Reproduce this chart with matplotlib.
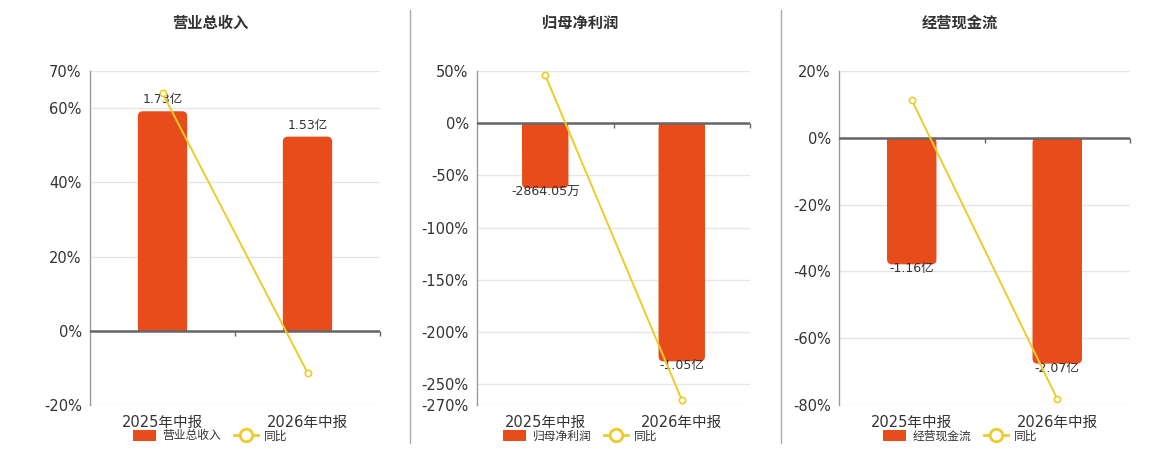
"""
Three small bar + line panels: 营业总收入 / 归母净利润 / 经营现金流 with YoY line.
"""

import matplotlib
matplotlib.use('Agg')
import matplotlib.pyplot as plt
from matplotlib.patches import FancyBboxPatch, Rectangle, Patch
from matplotlib.lines import Line2D

plt.rcParams['font.family'] = ['DejaVu Sans', 'Noto Sans CJK SC']

# ---- data ----
periods = ['2025年中报', '2026年中报']

revenue = [1.73, 1.53]              # 亿
revenue_labels = ['1.73亿', '1.53亿']
revenue_yoy = [64.0, -11.3]          # %
revenue_ticks = [-20, 0, 20, 40, 60, 70]

profit = [-0.286405, -1.05]         # 亿
profit_labels = ['-2864.05万', '-1.05亿']
profit_yoy = [46.0, -265.0]
profit_ticks = [-270, -250, -200, -150, -100, -50, 0, 50]

cash = [-1.16, -2.07]               # 亿
cash_labels = ['-1.16亿', '-2.07亿']
cash_yoy = [11.3, -78.2]
cash_ticks = [-80, -60, -40, -20, 0, 20]

titles = ['营业总收入', '归母净利润', '经营现金流']

# ---- style ----
W, H = 1160, 450
BAR_COLOR = '#E84C1B'
LINE_COLOR = '#EDCB2A'
TEXT_COLOR = '#333333'
AX_TOP, AX_BOTTOM = 71, 405
panels_px = [(90, 380), (477, 750), (839, 1130)]   # axes left/right in pixels
centers_px = [210, 580, 960]                          # title / legend centres
separators_px = [410, 781]


def draw_panel(fig, lr, cx, title, values, labels, yoy, ticks):
    left, right = lr
    ax_w, ax_h = right - left, AX_BOTTOM - AX_TOP
    ax = fig.add_axes([left / W, (H - AX_BOTTOM) / H, ax_w / W, ax_h / H])
    lo, hi = min(ticks), max(ticks)
    ax.set_xlim(-0.5, 1.5)
    ax.set_ylim(lo, hi)
    ax.set_yticks(ticks)
    ax.set_yticklabels([f'{t}%' for t in ticks])
    ax.set_xticks(range(len(periods)))
    ax.set_xticklabels(periods)
    ax.tick_params(axis='both', length=0, labelsize=10.5, labelcolor=TEXT_COLOR)
    ax.tick_params(axis='y', pad=6)
    ax.tick_params(axis='x', pad=7)
    ax.grid(axis='y', color='#e6e6e6', lw=1)
    ax.set_axisbelow(True)
    for s in ['top', 'right', 'bottom']:
        ax.spines[s].set_visible(False)
    ax.spines['left'].set_color('#999999')
    ax.spines['left'].set_linewidth(1)

    # bar axis: zero aligned with the percent axis
    ax_bar = ax.twinx()
    big = max(values, key=abs)
    side = hi if big > 0 else -lo
    k = abs(big) / (0.845 * side)
    ax_bar.set_ylim(lo * k, hi * k)
    ax_bar.yaxis.set_visible(False)
    for s in ax_bar.spines.values():
        s.set_visible(False)

    rects = ax_bar.bar(range(len(values)), values, width=0.34, color=BAR_COLOR)
    rx = 5 * 2.0 / ax_w
    ry = 5 * (hi - lo) * k / ax_h
    for r, v in zip(rects, values):
        x, w = r.get_x(), r.get_width()
        r.set_visible(False)
        ax_bar.add_patch(FancyBboxPatch((x, min(0, v)), w, abs(v),
                                        boxstyle=f'round,pad=0,rounding_size={rx}',
                                        mutation_aspect=ry / rx,
                                        fc=BAR_COLOR, ec='none'))
        # square off the end that sits on the zero line
        ax_bar.add_patch(Rectangle((x, min(0, v / 2)), w, abs(v) / 2,
                                   fc=BAR_COLOR, ec='none'))

    for i, (v, s) in enumerate(zip(values, labels)):
        if v > 0:
            ax_bar.annotate(s, (i, v), xytext=(0, 3.5), textcoords='offset points',
                            ha='center', va='bottom', fontsize=9, color=TEXT_COLOR)
        else:
            ax_bar.annotate(s, (i, v), xytext=(0, 1.5), textcoords='offset points',
                            ha='center', va='top', fontsize=9, color=TEXT_COLOR)

    # line axis on top
    ax_line = ax.twinx()
    ax_line.set_ylim(lo, hi)
    ax_line.yaxis.set_visible(False)
    for s in ax_line.spines.values():
        s.set_visible(False)
    ax_line.axhline(0, color='#666666', lw=1.8)
    tick_len = 5 * (hi - lo) / ax_h
    ax_line.vlines([0.5, 1.5], -tick_len, 0, color='#666666', lw=1, clip_on=False)
    ax_line.plot(range(len(yoy)), yoy, color=LINE_COLOR, lw=1.4, marker='o', ms=4.5,
                 mfc='white', mec=LINE_COLOR, mew=1.2, clip_on=False)

    fig.text(cx / W, 1 - 23 / H, title, ha='center', va='center',
             fontsize=11, fontweight='bold', color=TEXT_COLOR)

    handles = [Patch(fc=BAR_COLOR, ec='none'),
               Line2D([], [], color=LINE_COLOR, lw=2, marker='o', ms=9,
                      mfc='white', mec=LINE_COLOR, mew=2)]
    fig.legend(handles, [title, '同比'], loc='center',
               bbox_to_anchor=(cx / W, 1 - 436 / H), ncol=2, frameon=False,
               fontsize=8.5, handlelength=2.0, handleheight=1.0,
               handletextpad=0.5, columnspacing=1.1, labelcolor=TEXT_COLOR,
               borderpad=0, borderaxespad=0)


if __name__ == '__main__':
    fig = plt.figure(figsize=(W / 100, H / 100), dpi=100)
    fig.patch.set_facecolor('white')

    series = [(revenue, revenue_labels, revenue_yoy, revenue_ticks),
              (profit, profit_labels, profit_yoy, profit_ticks),
              (cash, cash_labels, cash_yoy, cash_ticks)]
    for lr, cx, title, (vals, labs, yoy, ticks) in zip(panels_px, centers_px, titles, series):
        draw_panel(fig, lr, cx, title, vals, labs, yoy, ticks)

    for sx in separators_px:
        fig.add_artist(Line2D([sx / W, sx / W], [1 - 443 / H, 1 - 10 / H],
                              color='#aaaaaa', lw=1))

    fig.savefig('out.png', dpi=100)
